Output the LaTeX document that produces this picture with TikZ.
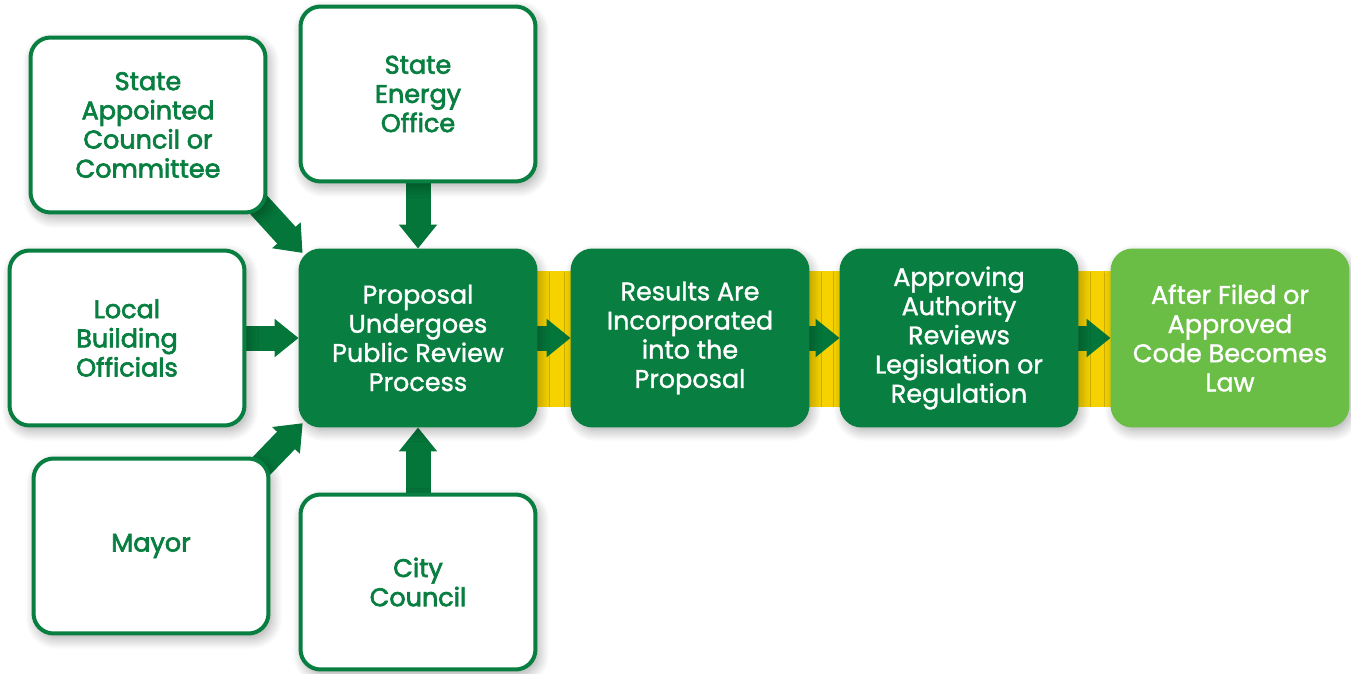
\documentclass[tikz,border=0pt]{standalone}
\usepackage{xcolor}
\usepackage{fontspec}
\setmainfont{Poppins}
\newfontfamily\greenfont{Poppins}[FakeBold=2.6]
\newfontfamily\whitefont{Poppins}[FakeBold=1.3]
\usetikzlibrary{arrows.meta,shadows.blur,calc}
\definecolor{darkgreen}{RGB}{8,127,64}
\definecolor{arrowgreen}{RGB}{4,118,58}
\definecolor{lightgreen}{RGB}{106,189,69}
\definecolor{bandyellow}{RGB}{246,210,0}
\pgfdeclarelayer{background}
\pgfsetlayers{background,main}

\begin{document}
\begin{tikzpicture}[x=0.02cm, y=-0.02cm,
  box/.style={rectangle, rounded corners=0.4cm, minimum width=4.7cm, minimum height=3.5cm,
    align=center, line width=0.08cm,
    blur shadow={shadow xshift=0.06cm, shadow yshift=-0.1cm, shadow blur radius=0.22cm,
      shadow blur steps=12, shadow opacity=35}},
  whitebox/.style={box, draw=darkgreen, fill=white, text=darkgreen,
    font=\greenfont\fontsize{14.5}{16.6}\selectfont},
  greenbox/.style={box, draw=darkgreen, fill=darkgreen, text=white,
    font=\whitefont\fontsize{14.5}{16.6}\selectfont},
  lawbox/.style={greenbox, draw=lightgreen, fill=lightgreen},
  flowarrow/.style={draw=arrowgreen, line width=0.5cm,
    -{Triangle[width=0.74cm, length=0.48cm]}},
  band/.style={fill=bandyellow}]

  \useasboundingbox (0,0) rectangle (1351,673);

  % Draw sources
  \node[whitebox] (council) at (148,125) {State\\Appointed\\Council or\\Committee};
  \node[whitebox] (energy) at (418,94) {State\\Energy\\Office};
  \node[whitebox] (officials) at (127,338) {Local\\Building\\Officials};
  \node[whitebox] (mayor) at (151,546) {Mayor};
  \node[whitebox] (city) at (418,582) {City\\Council};

  % Draw steps
  \node[greenbox] (review) at (418,338) {Proposal\\Undergoes\\Public Review\\Process};
  \node[greenbox] (results) at (690,338) {Results Are\\Incorporated\\into the\\Proposal};
  \node[greenbox] (authority) at (959,338) {Approving\\Authority\\Reviews\\Legislation or\\Regulation};
  \node[lawbox] (law) at (1230,338) {After Filed or\\Approved\\Code Becomes\\Law};

  \begin{pgfonlayer}{background}
    % Draw yellow band
    \foreach \a/\b in {review/results, results/authority, authority/law} {
      \fill[band] ($(\a.east)+(-4,-67)$) rectangle ($(\b.west)+(4,69)$);
      \draw[flowarrow] (\a.east) -- (\b.west);
    }

    % Draw arrows into the review
    \draw[flowarrow] (energy.south) -- (review.north);
    \draw[flowarrow] (city.north) -- (review.south);
    \draw[flowarrow] (officials.east) -- (review.west);
    \draw[flowarrow, shorten <=-0.6cm, shorten >=-0.12cm] (council.south east) -- (review.north west);
    \draw[flowarrow, shorten <=-0.6cm, shorten >=-0.12cm] (mayor.north east) -- (review.south west);
  \end{pgfonlayer}
\end{tikzpicture}
\end{document}
